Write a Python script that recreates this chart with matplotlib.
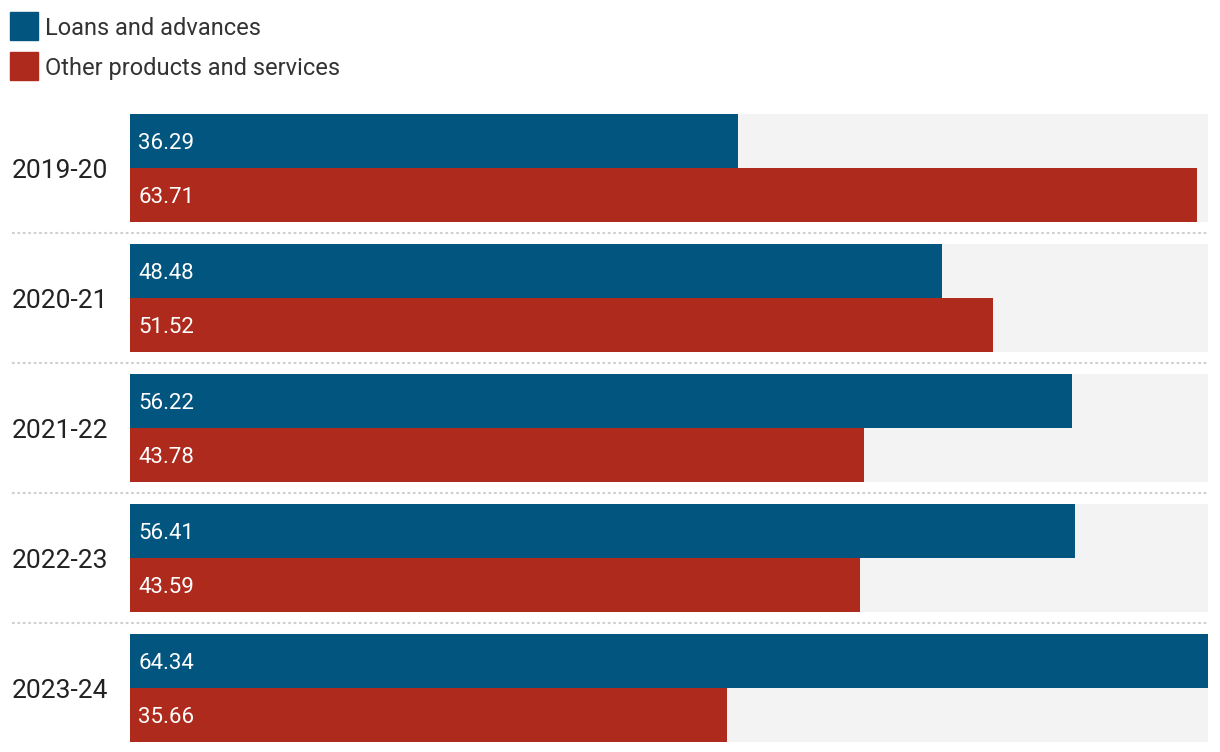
import numpy as np
import matplotlib
matplotlib.use("Agg")
from matplotlib import pyplot as plt
from matplotlib.patches import Rectangle

years = ["2019-20", "2020-21", "2021-22", "2022-23", "2023-24"]
loans = [36.29, 48.48, 56.22, 56.41, 64.34]
other = [63.71, 51.52, 43.78, 43.59, 35.66]
series_names = ["Loans and advances", "Other products and services"]

BLUE = "#02557f"
RED = "#ae2a1c"
GRAY_BG = "#f3f3f3"
TEXT = "#333333"

plt.rcParams["font.family"] = ["Roboto", "DejaVu Sans"]

W, H = 1220, 752
fig = plt.figure(figsize=(W / 100, H / 100), dpi=100)

# axes placed in pixel coords: x 130..1208, y 114..752
left, right, top, bottom = 130, 1208, 114, 752
ax = fig.add_axes([left / W, 1 - bottom / H, (right - left) / W, (bottom - top) / H])

pitch = 130.0
bh = 54 / pitch
dy = 2.5 / pitch  # small nudge down for text
xmax = max(max(loans), max(other))
ax.set_xlim(0, xmax)
ax.set_ylim(len(years) - 1 + (bottom - 168 - (len(years) - 1) * pitch) / pitch, -bh)
ax.axis("off")

y = np.arange(len(years))
ax.barh(y, [xmax] * len(years), height=2 * bh, color=GRAY_BG, zorder=0)
ax.barh(y - bh / 2, loans, height=bh, color=BLUE, zorder=1)
ax.barh(y + bh / 2, other, height=bh, color=RED, zorder=1)

for i in range(len(years)):
    ax.text(0.5, i - bh / 2 + dy, f"{loans[i]:.2f}", color="white", fontsize=16,
            va="center", ha="left", zorder=2)
    ax.text(0.5, i + bh / 2 + dy, f"{other[i]:.2f}", color="white", fontsize=16,
            va="center", ha="left", zorder=2)
    ax.text(-118 / (right - left), i + dy, years[i], color="#222222",
            fontsize=19, va="center", ha="left", transform=ax.get_yaxis_transform())

# dotted separators
sep_x0 = (12 - left) / (right - left)
for i in range(len(years) - 1):
    ax.plot([sep_x0, 1], [i + 0.5, i + 0.5], transform=ax.get_yaxis_transform(),
            color="#d0d0d0", lw=1.5, ls=(0, (1.3, 1.3)), clip_on=False, zorder=0)

# legend
for k, (name, col) in enumerate(zip(series_names, [BLUE, RED])):
    y0 = 12 + k * 40
    fig.patches.append(Rectangle((10 / W, 1 - (y0 + 28) / H), 28 / W, 28 / H,
                                 transform=fig.transFigure, color=col))
    fig.text(45 / W, 1 - (y0 + 16.5) / H, name, color=TEXT, fontsize=17,
             va="center", ha="left")

fig.savefig("out.png", dpi=100)
